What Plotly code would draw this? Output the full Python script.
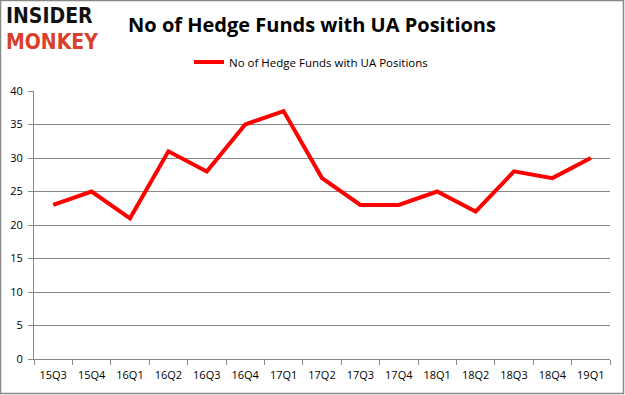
import plotly.graph_objects as go

quarters = ["15Q3", "15Q4", "16Q1", "16Q2", "16Q3", "16Q4", "17Q1", "17Q2",
            "17Q3", "17Q4", "18Q1", "18Q2", "18Q3", "18Q4", "19Q1"]
funds = [23, 25, 21, 31, 28, 35, 37, 27, 23, 23, 25, 22, 28, 27, 30]
series_name = "No of Hedge Funds with UA Positions"
title_text = "No of Hedge Funds with UA Positions"
y_ticks = [0, 5, 10, 15, 20, 25, 30, 35, 40]

W, H = 625, 395
L, R, T, B = 34, 15, 91, 36
PW, PH = W - L - R, H - T - B

def px(x):
    return (x - L) / PW

def py(y):
    return (H - B - y) / PH

fig = go.Figure()
fig.add_trace(go.Scatter(x=quarters, y=funds, mode="lines", name=series_name,
                         line=dict(color="#ff0000", width=4)))

fig.update_layout(
    width=W, height=H,
    margin=dict(l=L, r=R, t=T, b=B, autoexpand=False),
    paper_bgcolor="white", plot_bgcolor="white",
    font=dict(family="Open Sans, DejaVu Sans, sans-serif", size=11, color="#000"),
    title=dict(text="<b>" + title_text + "</b>", x=312 / W, xanchor="center",
               y=1 - 25 / H, yanchor="middle",
               font=dict(size=20, color="#000")),
    showlegend=True,
    legend=dict(orientation="h", x=px(311), xanchor="center", y=py(62), yanchor="middle",
                font=dict(size=11.5), bgcolor="rgba(0,0,0,0)", itemwidth=30),
    xaxis=dict(type="category", range=[-0.5, len(quarters) - 0.5], showgrid=False,
               ticks="outside", tickson="boundaries", ticklabelstandoff=6,
               ticklen=5, tickcolor="#888", showline=True, linecolor="#888", linewidth=1,
               tickfont=dict(size=11)),
    yaxis=dict(range=[0, 40], tickvals=y_ticks, showgrid=True, gridcolor="#888", gridwidth=1,
               ticks="outside", ticklen=5, tickcolor="#888", showline=True, linecolor="#888",
               ticklabelstandoff=3, zeroline=False, tickfont=dict(size=11)),
)

# Outer border
fig.add_shape(type="rect", xref="paper", yref="paper", x0=px(0.5), x1=px(623.5),
              y0=py(393.5), y1=py(0.5), line=dict(color="#888", width=1.5))

# Logo
logo_font = "Liberation Sans Narrow, DejaVu Sans Condensed, sans-serif"
fig.add_annotation(text="<b>INSIDER</b>", xref="paper", yref="paper", x=px(5), y=py(16.5),
                   xanchor="left", yanchor="middle", showarrow=False, borderpad=0,
                   font=dict(family=logo_font, size=21, color="#111"))
fig.add_annotation(text="<b>MONKEY</b>", xref="paper", yref="paper", x=px(5), y=py(42),
                   xanchor="left", yanchor="middle", showarrow=False, borderpad=0,
                   font=dict(family=logo_font, size=21, color="#d9402b"))

fig.write_html("out.html", config={"displayModeBar": False},
               post_script="document.body.style.margin='0';")
